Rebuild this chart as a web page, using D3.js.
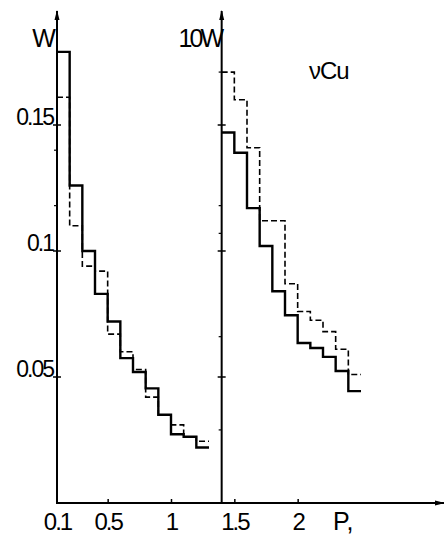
<!DOCTYPE html>
<html>
<head>
<meta charset="utf-8">
<script src="https://cdn.jsdelivr.net/npm/d3@7"></script>
<style>
  body { margin: 0; background: #fff; }
  svg { display: block; }
  text { font-family: "Liberation Sans", Arial, sans-serif; fill: #000; }
</style>
</head>
<body>
<div id="chart"></div>
<script>
// Bin edges in P, left panel (W) and right panel (10W)
const leftEdges = [0.1, 0.2, 0.3, 0.4, 0.5, 0.6, 0.7, 0.8, 0.9, 1.0, 1.1, 1.2, 1.3];
const leftSolid = [0.179, 0.126, 0.100, 0.083, 0.072, 0.0575, 0.052, 0.0455, 0.035, 0.0273, 0.0263, 0.022];
const leftDashed = [0.161, 0.110, 0.094, 0.092, 0.067, 0.060, 0.053, 0.042, 0.035, 0.031, 0.0263, 0.0245];

const rightEdges = [1.4, 1.5, 1.6, 1.7, 1.8, 1.9, 2.0, 2.1, 2.2, 2.3, 2.4, 2.5];
const rightSolid = [0.147, 0.139, 0.117, 0.102, 0.084, 0.0745, 0.0635, 0.0615, 0.058, 0.0524, 0.0444];
const rightDashed = [0.171, 0.160, 0.141, 0.112, 0.112, 0.087, 0.076, 0.0725, 0.068, 0.061, 0.051];

const xTickValues = [0.1, 0.5, 1, 1.5, 2];
const yTickValues = [0.05, 0.1, 0.15];
const yMinorLeft = [0.118, 0.14];
const yMinorRight = [0.029, 0.066, 0.107, 0.118, 0.171];

const width = 444, height = 536;

const svg = d3.select("#chart").append("svg")
    .attr("width", width)
    .attr("height", height);

// one P scale for both panels, one scale for W / 10W
const x = d3.scaleLinear().domain([0.1, 3.1]).range([57, 437]);
const y = d3.scaleLinear().domain([0, 0.2]).range([503, -1]);

const y0 = y(0);
const splitP = rightEdges[0];

// arrow heads
svg.append("defs").append("marker")
    .attr("id", "arrow")
    .attr("viewBox", "0 -4 10 8")
    .attr("refX", 9).attr("refY", 0)
    .attr("markerWidth", 10).attr("markerHeight", 8)
    .attr("markerUnits", "userSpaceOnUse")
    .attr("orient", "auto")
    .append("path")
    .attr("d", "M0,-2.5L10,0L0,2.5Z")
    .attr("fill", "#000");

// axis lines
svg.append("line")
    .attr("x1", x(0.1)).attr("x2", 444)
    .attr("y1", y0).attr("y2", y0)
    .attr("stroke", "#000").attr("stroke-width", 2)
    .attr("marker-end", "url(#arrow)");

[0.1, splitP].forEach(p => {
    svg.append("line")
        .attr("x1", x(p)).attr("x2", x(p))
        .attr("y1", y0 + 1).attr("y2", 11)
        .attr("stroke", "#000").attr("stroke-width", 2)
        .attr("marker-end", "url(#arrow)");
});

// x axis ticks and labels
const xAxis = d3.axisBottom(x)
    .tickValues(xTickValues)
    .tickSizeInner(-4)
    .tickSizeOuter(0)
    .tickPadding(10)
    .tickFormat(d => d);

const xg = svg.append("g")
    .attr("transform", `translate(0,${y0})`)
    .call(xAxis);
xg.select(".domain").remove();
xg.selectAll(".tick line").attr("stroke-width", 1.5)
    .filter(d => d === 0.1).remove();
xg.selectAll(".tick text")
    .style("font-size", "24px")
    .style("letter-spacing", "-2px")
    .attr("fill", "#000");

// y axis ticks (both panels) and labels (left)
function yTicks(p, major, minor) {
    const g = svg.append("g").attr("transform", `translate(${x(p)},0)`);
    g.selectAll(".maj").data(major).join("line")
        .attr("x1", -4).attr("x2", 4)
        .attr("y1", d => y(d)).attr("y2", d => y(d))
        .attr("stroke", "#000").attr("stroke-width", 1.5);
    g.selectAll(".min").data(minor).join("line")
        .attr("x1", -3).attr("x2", 0)
        .attr("y1", d => y(d)).attr("y2", d => y(d))
        .attr("stroke", "#000").attr("stroke-width", 1.2);
    return g;
}
const leftAxis = yTicks(0.1, yTickValues, yMinorLeft);
yTicks(splitP, yTickValues, yMinorRight);

leftAxis.selectAll(".lab").data(yTickValues).join("text")
    .attr("x", -4)
    .attr("y", d => y(d))
    .attr("text-anchor", "end")
    .style("font-size", "23px")
    .style("letter-spacing", "-2px")
    .text(d => d);

// axis titles
svg.append("text").attr("x", 43).attr("y", 47)
    .attr("text-anchor", "middle")
    .style("font-size", "25px").style("letter-spacing", "-2px")
    .text("W");
svg.append("text").attr("x", 221).attr("y", 47)
    .attr("text-anchor", "end")
    .style("font-size", "25px").style("letter-spacing", "-3px")
    .text("10W");
svg.append("text").attr("x", 333).attr("y", 530)
    .style("font-size", "25px")
    .text("P,");
svg.append("text").attr("x", 309).attr("y", 79)
    .style("font-size", "24px").style("letter-spacing", "-1px")
    .text("νCu");

// step histograms
const step = d3.line()
    .x(d => x(d[0]))
    .y(d => y(d[1]))
    .curve(d3.curveStepAfter);

function stepPoints(edges, vals) {
    const pts = vals.map((v, i) => [edges[i], v]);
    pts.push([edges[vals.length], vals[vals.length - 1]]);
    return pts;
}

const series = [
    { edges: leftEdges, vals: leftDashed, dash: "6,3", w: 1.6 },
    { edges: rightEdges, vals: rightDashed, dash: "6,3", w: 1.6 },
    { edges: leftEdges, vals: leftSolid, dash: null, w: 2.4 },
    { edges: rightEdges, vals: rightSolid, dash: null, w: 2.4 }
];

svg.selectAll(".hist").data(series).join("path")
    .attr("class", "hist")
    .attr("d", d => step(stepPoints(d.edges, d.vals)))
    .attr("fill", "none")
    .attr("stroke", "#000")
    .attr("stroke-width", d => d.w)
    .attr("stroke-dasharray", d => d.dash);
</script>
</body>
</html>
